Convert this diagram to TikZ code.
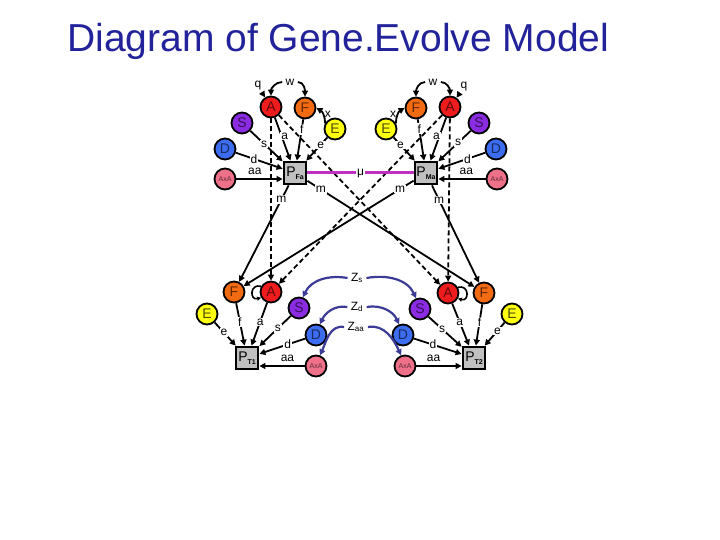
\documentclass[tikz,border=0pt]{standalone}
\usepackage{fontspec}
\setmainfont{Liberation Sans}
\usetikzlibrary{arrows.meta}
\definecolor{titleblue}{HTML}{22229A}
\definecolor{colA}{HTML}{EE1C1C}
\definecolor{colF}{HTML}{F26A12}
\definecolor{colE}{HTML}{FFFF10}
\definecolor{colS}{HTML}{8B2BE2}
\definecolor{colD}{HTML}{3C6CF0}
\definecolor{colAA}{HTML}{EE7089}
\definecolor{colP}{HTML}{C0C0C0}
\definecolor{zblue}{HTML}{3C3C96}
\definecolor{mucol}{HTML}{C030C0}

\newcommand{\axa}{{\fontsize{7}{7}\selectfont AxA}}
\newcommand{\parlab}[1]{P\raisebox{-2.5pt}{\fontsize{7}{7}\selectfont\bfseries #1}}

\begin{document}
\begin{tikzpicture}[x=1pt, y=1pt, font=\fontsize{12}{12}\selectfont,
    gene/.style={circle, draw=black, line width=1.8pt, minimum size=21pt,
                 inner sep=0pt, font=\fontsize{14}{14}\selectfont},
    alA/.style={gene, fill=colA, text=colA!40!black},
    alF/.style={gene, fill=colF, text=colF!40!black},
    alE/.style={gene, fill=colE, text=colE!30!black},
    alS/.style={gene, fill=colS, text=colS!40!black},
    alD/.style={gene, fill=colD, text=colD!40!black},
    alAA/.style={gene, fill=colAA, text=colAA!40!black},
    parent/.style={draw=black, line width=2.8pt, fill=colP, minimum size=22pt,
                   inner sep=0pt, font=\fontsize{14}{14}\selectfont},
    arr/.style={-{Triangle[length=6pt,width=6pt]}, line width=1.8pt},
    loop/.style={-{Triangle[length=4pt,width=4pt]}, line width=1.6pt},
    dsh/.style={arr, dash pattern=on 5pt off 3pt},
    zarr/.style={-{Triangle[length=6pt,width=6pt]}, line width=2.2pt, draw=zblue},
    lbl/.style={fill=white, inner sep=1pt}]
  \useasboundingbox (0,0) rectangle (720,-540);

  % title
  \node[anchor=base west, inner sep=0pt, text=titleblue,
        font=\fontsize{39}{39}\selectfont] (title) at (67,-52)
        {Diagram of Gene.Evolve Model};

  % father
  \node[alA] (Af) at (271,-107) {A};
  \node[alF] (Ff) at (305,-108) {F};
  \node[alE] (Ef) at (335,-129) {E};
  \node[alS] (Sf) at (242,-123) {S};
  \node[alD] (Df) at (225,-149) {D};
  \node[alAA] (AAf) at (225,-179) {\axa};
  \node[parent] (Pf) at (295,-173) {\parlab{Fa}};

  % mother
  \node[alF] (Fm) at (416,-108) {F};
  \node[alA] (Am) at (450,-107) {A};
  \node[alE] (Em) at (386,-129) {E};
  \node[alS] (Sm) at (479,-123) {S};
  \node[alD] (Dm) at (496,-149) {D};
  \node[alAA] (AAm) at (497,-179) {\axa};
  \node[parent] (Pm) at (426,-173) {\parlab{Ma}};

  % child 1
  \node[alF] (F1) at (234,-292) {F};
  \node[alA] (A1) at (271,-292) {A};
  \node[alE] (E1) at (207,-314) {E};
  \node[alS] (S1) at (299,-308) {S};
  \node[alD] (D1) at (316,-335) {D};
  \node[alAA] (AA1) at (316,-366) {\axa};
  \node[parent] (P1) at (247,-358) {\parlab{T1}};

  % child 2
  \node[alA] (A2) at (448,-293) {A};
  \node[alF] (F2) at (484,-293) {F};
  \node[alE] (E2) at (512,-314) {E};
  \node[alS] (S2) at (420,-309) {S};
  \node[alD] (D2) at (403,-335) {D};
  \node[alAA] (AA2) at (405,-366) {\axa};
  \node[parent] (P2) at (474,-358) {\parlab{T2}};

  % inheritance
  \draw[dsh] (Af) -- (A1);
  \draw[dsh] (Af) -- (A2);
  \draw[dsh] (Am) -- (A2);
  \draw[dsh] (Am) -- (A1);
  \draw[arr] (Pf) -- node[lbl, pos=.145]{m} (F1);
  \draw[arr] (Pf) -- node[lbl, pos=.08]{m} (F2);
  \draw[arr] (Pm) -- node[lbl, pos=.08]{m} (F1);
  \draw[arr] (Pm) -- node[lbl, pos=.15]{m} (F2);
  \draw[line width=3pt, mucol] (Pf) -- node[lbl, text=black]{μ} (Pm);

  % father inputs
  \node (qf) at (258,-86) {q};
  \node (wf) at (290,-82) {w};
  \draw[arr] (qf) -- (Af);
  \draw[arr] (wf.west) to[out=180, in=90] (Af.north);
  \draw[arr] (wf.east) to[out=0, in=90] (Ff.north);
  \draw[arr] (Ef.150) to[bend right=30] node[right, inner sep=1pt]{x} (Ff.east);
  \draw[arr] (Sf) -- node[lbl, pos=.43]{s} (Pf);
  \draw[arr] (Af) -- node[lbl, pos=.43, xshift=3pt]{a} (Pf);
  \draw[arr] (Ff) -- node[lbl, pos=.25]{f} (Pf);
  \draw[arr] (Ef) -- node[lbl, pos=.32]{e} (Pf);
  \draw[arr] (Df) -- node[lbl, pos=.39]{d} (Pf);
  \draw[arr] (AAf) -- node[above, pos=.4]{aa} (AAf -| Pf.west);

  % mother inputs
  \node (qm) at (464,-87) {q};
  \node (wm) at (433,-82) {w};
  \draw[arr] (qm) -- (Am);
  \draw[arr] (wm.west) to[out=180, in=90] (Fm.north);
  \draw[arr] (wm.east) to[out=0, in=90] (Am.north);
  \draw[arr] (Em.30) to[bend left=30] node[left, inner sep=1pt]{x} (Fm.west);
  \draw[arr] (Sm) -- node[lbl, pos=.39]{s} (Pm);
  \draw[arr] (Am) -- node[lbl, pos=.43, xshift=-3pt]{a} (Pm);
  \draw[arr] (Fm) -- node[lbl, pos=.23]{f} (Pm);
  \draw[arr] (Em) -- node[lbl, pos=.32]{e} (Pm);
  \draw[arr] (Dm) -- node[lbl, pos=.38]{d} (Pm);
  \draw[arr] (AAm) -- node[above, pos=.41]{aa} (AAm -| Pm.east);

  % child 1 inputs
  \draw[loop] (A1.150) .. controls +(165:12) and +(195:12) .. (A1.210);
  \draw[arr] (F1) -- node[lbl, pos=.44]{f} (P1);
  \draw[arr] (A1) -- node[lbl, pos=.45]{a} (P1);
  \draw[arr] (E1) -- node[lbl, pos=.44]{e} (P1);
  \draw[arr] (S1) -- node[lbl, pos=.41]{s} (P1);
  \draw[arr] (D1) -- node[lbl, pos=.38]{d} (P1);
  \draw[arr] (AA1) -- node[above, pos=.38]{aa} (AA1 -| P1.east);

  % child 2 inputs
  \draw[loop] (A2.30) .. controls +(15:12) and +(-15:12) .. (A2.-30);
  \draw[arr] (A2) -- node[lbl, pos=.45]{a} (P2);
  \draw[arr] (F2) -- node[lbl, pos=.43]{f} (P2);
  \draw[arr] (E2) -- node[lbl, pos=.36]{e} (P2);
  \draw[arr] (S2) -- node[lbl, pos=.41]{s} (P2);
  \draw[arr] (D2) -- node[lbl, pos=.40]{d} (P2);
  \draw[arr] (AA2) -- node[above, pos=.38]{aa} (AA2 -| P2.west);

  % crossover
  \node (zs) at (357,-278) {Z\textsubscript{s}};
  \node (zd) at (357,-307) {Z\textsubscript{d}};
  \node (zaa) at (356,-327) {Z\textsubscript{aa}};
  \draw[zarr] (zs.west) to[out=170, in=65] (S1.70);
  \draw[zarr] (zs.east) to[out=10, in=115] (S2.110);
  \draw[zarr] (zd.west) to[out=170, in=65] (D1.70);
  \draw[zarr] (zd.east) to[out=10, in=115] (D2.110);
  \draw[zarr] (zaa.west) to[out=170, in=65] (AA1.70);
  \draw[zarr] (zaa.east) to[out=10, in=115] (AA2.110);
\end{tikzpicture}
\end{document}
